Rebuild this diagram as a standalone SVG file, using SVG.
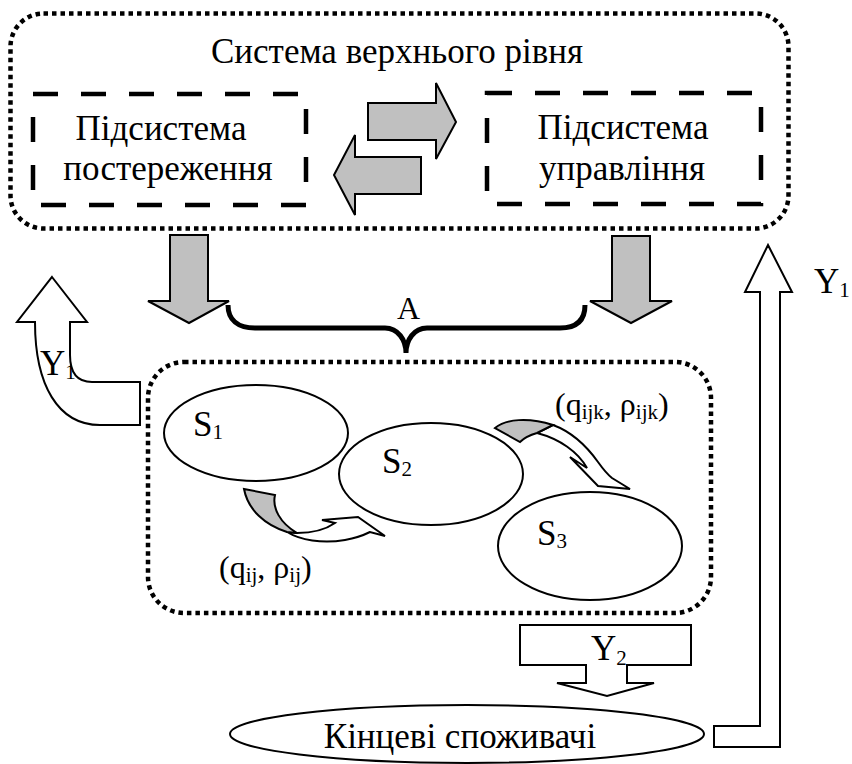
<svg xmlns="http://www.w3.org/2000/svg" width="852" height="764" viewBox="0 0 852 764">
<style>
.dot{fill:none;stroke:#000;stroke-width:4.5;stroke-dasharray:4.5 4}
.dash{fill:none;stroke:#000;stroke-width:4.5;stroke-dasharray:25 23}
.gray{fill:#c0c0c0;stroke:#000;stroke-width:2;stroke-linejoin:miter}
.hol{fill:#fff;stroke:#000;stroke-width:2;stroke-linejoin:miter}
.ell{fill:#fff;stroke:#000;stroke-width:2}
text{font-family:"Liberation Serif","Times New Roman",serif;font-size:35px;fill:#000}
.sub{font-size:21px}
.m{text-anchor:middle}
</style>
<rect width="852" height="764" fill="#fff"/>
<g id="upper-system">
<rect class="dot" x="10.5" y="13.5" width="778" height="215" rx="33"/>
<text class="m" x="397" y="63">Система верхнього рівня</text>
</g>
<g id="observation">
<rect class="dash" x="33" y="94" width="273" height="111"/>
<text class="m" x="161" y="140">Підсистема</text>
<text class="m" x="168" y="180">постереження</text>
</g>
<g id="control">
<rect class="dash" x="487" y="93" width="274" height="111"/>
<text class="m" x="623" y="139">Підсистема</text>
<text class="m" x="622" y="180">управління</text>
</g>
<g id="lower-system">
<rect class="dot" x="148" y="362" width="563" height="251" rx="36"/>
</g>
<g id="s1">
<ellipse class="ell" cx="256" cy="433" rx="92" ry="48"/>
<text x="193" y="436">S<tspan class="sub" dy="3">1</tspan></text>
</g>
<g id="s2">
<ellipse class="ell" cx="431" cy="474" rx="92" ry="51"/>
<text x="382" y="473">S<tspan class="sub" dy="3">2</tspan></text>
</g>
<g id="s3">
<ellipse class="ell" cx="590" cy="546" rx="92" ry="54"/>
<text x="537" y="545">S<tspan class="sub" dy="3">3</tspan></text>
</g>
<g id="consumers">
<ellipse class="ell" cx="467" cy="734" rx="237" ry="29"/>
<text class="m" x="460" y="748">Кінцеві споживачі</text>
</g>
<g id="connectors">
<path class="gray" d="M368,103 L436,103 L436,83 L456,122 L436,159 L436,140 L368,140 Z"/>
<path class="gray" d="M421,157 L421,194 L355,194 L355,215 L334,175 L355,135 L355,157 Z"/>
<path class="gray" d="M170,235 L208,235 L208,301 L229,301 L189,323 L148,301 L170,301 Z"/>
<path class="gray" d="M612,236 L650,236 L650,301 L672,301 L631,323 L590,301 L612,301 Z"/>
<path d="M228,305 C228,320 238,328 255,328 L385,328 C398,328 406,340 406,353 C406,340 414,328 427,328 L560,328 C577,328 585,320 585,305" fill="none" stroke="#000" stroke-width="5"/>
<text x="397" y="319" style="font-size:32px">A</text>
<path class="hol" d="M52,277 L87,322 L70,322 L70,355 C70,372 76,382 92,382 L140,382 L140,425 L100,425 C58,425 35,385 35,322 L17,322 Z"/>
<text x="40" y="375">Y<tspan class="sub" dy="4">1</tspan></text>
<path class="hol" d="M768,245 L792,292 L780,292 L780,747 L714,747 L714,726 L760,726 L760,292 L745,292 Z"/>
<text x="814" y="293">Y<tspan class="sub" dy="4">1</tspan></text>
<path class="hol" d="M520,625 L691,625 L691,665 L627,665 L627,683 L654,683 L607,696 L557,683 L586,683 L586,665 L520,665 Z"/>
<text x="591" y="660">Y<tspan class="sub" dy="5">2</tspan></text>
<path class="hol" d="M287,532 C300,540 322,544 345,540 C356,538 364,535 370,532 L385,536 L358,517 L322,520 L335,523 C325,530 312,533 297,533 Z"/>
<path class="gray" d="M244,489 L275,495 C272,508 280,523 297,533 L287,532 C265,525 248,510 244,489 Z"/>
<path class="hol" d="M553,425 C572,432 588,448 598,462 C603,469 607,474 612,478 L630,489 L598,486 L570,457 L587,468 C578,452 560,439 537,433 Z"/>
<path class="gray" d="M495,428 C506,419 528,417 553,425 L537,433 C530,435 524,438 520,442 Z"/>
<text x="219" y="578" style="font-size:32px">(q<tspan class="sub" dy="4">ij</tspan><tspan dy="-4">, ρ</tspan><tspan class="sub" dy="4">ij</tspan><tspan dy="-4">)</tspan></text>
<text x="555" y="415" style="font-size:32px">(q<tspan class="sub" dy="4">ijk</tspan><tspan dy="-4">, ρ</tspan><tspan class="sub" dy="4">ijk</tspan><tspan dy="-4">)</tspan></text>
</g>
</svg>
